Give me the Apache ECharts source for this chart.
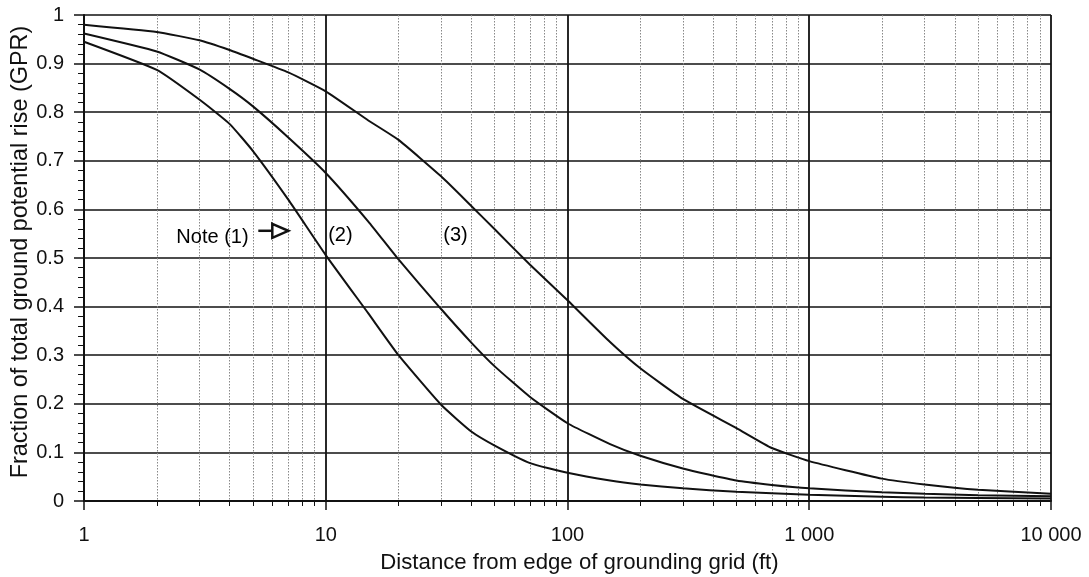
<!DOCTYPE html>
<html>
<head>
<meta charset="utf-8">
<script src="https://cdn.jsdelivr.net/npm/echarts@6/dist/echarts.min.js"></script>
<style>
  html, body { margin: 0; padding: 0; background: #fff; }
  #chart { width: 1089px; height: 577px; }
</style>
</head>
<body>
<div id="chart"></div>
<script>
// ---- data ----
const distances = [1, 2, 3, 4, 5, 7, 10, 15, 20, 30, 40, 50, 70, 100, 150, 200, 300, 500, 700, 1000, 2000, 3000, 5000, 10000];
const curveNote1 = [0.945, 0.887, 0.826, 0.776, 0.72, 0.62, 0.506, 0.386, 0.30, 0.198, 0.143, 0.114, 0.078, 0.058, 0.042, 0.034, 0.026, 0.019, 0.016, 0.013, 0.009, 0.007, 0.006, 0.005];
const curve2 = [0.962, 0.925, 0.888, 0.848, 0.812, 0.748, 0.675, 0.575, 0.497, 0.395, 0.326, 0.277, 0.214, 0.16, 0.117, 0.093, 0.067, 0.042, 0.033, 0.026, 0.018, 0.015, 0.012, 0.01];
const curve3 = [0.98, 0.965, 0.948, 0.928, 0.91, 0.882, 0.843, 0.783, 0.743, 0.668, 0.607, 0.559, 0.486, 0.413, 0.327, 0.273, 0.21, 0.15, 0.109, 0.082, 0.046, 0.034, 0.023, 0.015];
const yTicks = [0, 0.1, 0.2, 0.3, 0.4, 0.5, 0.6, 0.7, 0.8, 0.9, 1];
const xTickLabels = ['1', '10', '100', '1 000', '10 000'];
const xTitle = 'Distance from edge of grounding grid (ft)';
const yTitle = 'Fraction of total ground potential rise (GPR)';
const notes = [
  { text: 'Note (1)', x: 3.4, y: 0.543 },
  { text: '(2)', x: 11.5, y: 0.547 },
  { text: '(3)', x: 34.4, y: 0.547 }
];
const arrowAnchor = [7, 0.556];

const FONT = '"Liberation Sans", Arial, Helvetica, sans-serif';
const pair = (vals) => distances.map((d, i) => [d, vals[i]]);

const chart = echarts.init(document.getElementById('chart'), null, { renderer: 'canvas' });

const lineStyle = { color: '#111', width: 2 };
const mkLine = (name, vals) => ({
  name, type: 'line', data: pair(vals), smooth: 0.15, showSymbol: false,
  symbol: 'none', lineStyle, z: 5, silent: true
});

chart.setOption({
  animation: false,
  backgroundColor: '#fff',
  grid: { left: 84, right: 38, top: 15, bottom: 76, show: false, containLabel: false, outerBoundsMode: 'none' },
  xAxis: {
    type: 'log', logBase: 10, min: 1, max: 10000,
    name: xTitle, nameLocation: 'middle', nameGap: 51,
    nameTextStyle: { fontFamily: FONT, fontSize: 22.2, color: '#111', padding: [0, 0, 0, 24] },
    axisLine: { show: true, lineStyle: { color: '#111', width: 2 } },
    axisTick: { show: true, length: 9, lineStyle: { color: '#111', width: 1.5 } },
    minorTick: { show: true, splitNumber: 9, length: 5, lineStyle: { color: '#111', width: 1 } },
    axisLabel: {
      fontFamily: FONT, fontSize: 20, color: '#111', margin: 24,
      formatter: (v) => xTickLabels[Math.round(Math.log10(v))] ?? String(v)
    },
    splitLine: { show: true, lineStyle: { color: '#111', width: 1.8 } },
    minorSplitLine: { show: true, lineStyle: { color: '#888', width: 1, type: [1.5, 1.5] } }
  },
  yAxis: {
    type: 'value', min: yTicks[0], max: yTicks[yTicks.length - 1], interval: 0.1,
    name: yTitle, nameLocation: 'middle', nameGap: 52, nameRotate: 90, nameMoveOverlap: false,
    nameTextStyle: { fontFamily: FONT, fontSize: 23.4, color: '#111', padding: [0, 0, 0, 12] },
    axisLine: { show: true, lineStyle: { color: '#111', width: 2 } },
    axisTick: { show: true, length: 10, lineStyle: { color: '#111', width: 1.5 } },
    minorTick: { show: true, splitNumber: 5, length: 6, lineStyle: { color: '#111', width: 1 } },
    axisLabel: { fontFamily: FONT, fontSize: 20, color: '#111', margin: 20,
      formatter: (v) => String(Math.round(v * 10) / 10) },
    splitLine: { show: true, lineStyle: { color: '#111', width: 1.6 } }
  },
  series: [
    mkLine('Note (1)', curveNote1),
    mkLine('(2)', curve2),
    mkLine('(3)', curve3),
    {
      name: 'notes', type: 'scatter', symbolSize: 0, silent: true, z: 6,
      itemStyle: { opacity: 1 },
      data: notes.map(n => ({ value: [n.x, n.y], name: n.text })),
      label: { show: true, position: 'inside', formatter: (p) => p.name, opacity: 1,
        fontFamily: FONT, fontSize: 20, color: '#000', textBorderWidth: 0 }
    }
  ]
});

// hollow arrow next to "Note (1)", anchored through the axis scales
const tip = chart.convertToPixel({ gridIndex: 0 }, arrowAnchor);
chart.setOption({
  graphic: [
    { type: 'line', z: 10, shape: { x1: tip[0] - 30, y1: tip[1], x2: tip[0] - 16, y2: tip[1] },
      style: { stroke: '#111', lineWidth: 2.5 } },
    { type: 'polygon', z: 10, shape: { points: [[tip[0] - 16, tip[1] - 7], [tip[0], tip[1]], [tip[0] - 16, tip[1] + 7]] },
      style: { fill: '#fff', stroke: '#111', lineWidth: 2.5 } }
  ]
});
</script>
</body>
</html>
